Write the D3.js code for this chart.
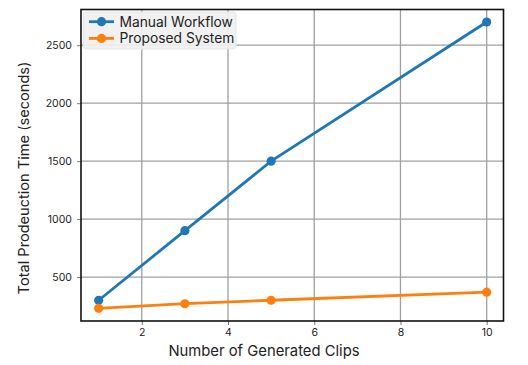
<!DOCTYPE html>
<html><head><meta charset="utf-8">
<script src="https://cdn.jsdelivr.net/npm/d3@7"></script>
<style>
body{margin:0;background:#fff;}
text{font-family:Inter,"Noto Sans",sans-serif;}
</style></head>
<body><svg id="c" width="528" height="365"></svg>
<script>
const clips = [1, 3, 5, 10];
const manual = [300, 900, 1500, 2700];
const proposed = [230, 270, 300, 370];
const xTicks = [2, 4, 6, 8, 10];
const yTicks = [500, 1000, 1500, 2000, 2500];
const seriesNames = ["Manual Workflow", "Proposed System"];
const colors = ["#1f77b4", "#ff7f0e"];

const svg = d3.select("#c");
const L = 81, R = 503.5, T = 9.5, B = 321;
const x = d3.scaleLinear().domain([0.59, 10.39]).range([L, R]);
const y = d3.scaleLinear().domain([121, 2808]).range([B, T]);

// grid
svg.append("g").selectAll("line").data(xTicks).join("line")
  .attr("x1", d => x(d)).attr("x2", d => x(d)).attr("y1", T).attr("y2", B)
  .attr("stroke", "#a0a0a0").attr("stroke-width", 1.3);
svg.append("g").selectAll("line").data(yTicks).join("line")
  .attr("y1", d => y(d)).attr("y2", d => y(d)).attr("x1", L).attr("x2", R)
  .attr("stroke", "#a0a0a0").attr("stroke-width", 1.3);

// axes
const xa = svg.append("g").attr("transform", `translate(0,${B})`)
  .call(d3.axisBottom(x).tickValues(xTicks).tickSize(4).tickPadding(4));
const ya = svg.append("g").attr("transform", `translate(${L},0)`)
  .call(d3.axisLeft(y).tickValues(yTicks).tickSize(4).tickPadding(5).tickFormat(d3.format("d")));
[xa, ya].forEach(a => {
  a.select(".domain").remove();
  a.selectAll("line").attr("stroke", "#555").attr("stroke-width", 0.8);
  a.selectAll("text").attr("font-size", 10.5).attr("fill", "#222")
    .style("font-family", "Inter, sans-serif");
});

// frame
svg.append("rect").attr("x", L).attr("y", T).attr("width", R - L).attr("height", B - T)
  .attr("fill", "none").attr("stroke", "#111").attr("stroke-width", 1.6);

// series
const data = [manual, proposed];
const line = d3.line().x((d, i) => x(clips[i])).y(d => y(d));
data.forEach((s, k) => {
  svg.append("path").datum(s).attr("d", line).attr("fill", "none")
    .attr("stroke", colors[k]).attr("stroke-width", 2.8);
  svg.append("g").selectAll("circle").data(s).join("circle")
    .attr("cx", (d, i) => x(clips[i])).attr("cy", d => y(d)).attr("r", 4.6)
    .attr("fill", colors[k]);
});

// legend
const lg = svg.append("g");
lg.append("rect").attr("x", 83.5).attr("y", 12).attr("width", 152.5).attr("height", 37)
  .attr("rx", 3).attr("fill", "#f0f0f0").attr("fill-opacity", 0.92).attr("stroke", "#e6e6e6");
seriesNames.forEach((n, k) => {
  const yy = 21.7 + k * 16.7;
  lg.append("line").attr("x1", 89).attr("x2", 114).attr("y1", yy).attr("y2", yy)
    .attr("stroke", colors[k]).attr("stroke-width", 2.8);
  lg.append("circle").attr("cx", 101.5).attr("cy", yy).attr("r", 4.6).attr("fill", colors[k]);
  lg.append("text").attr("x", 119.5).attr("y", yy + 4.9).attr("font-size", 13.8)
    .attr("fill", "#222").text(n);
});

// labels
svg.append("text").attr("x", 264).attr("y", 356).attr("text-anchor", "middle")
  .attr("font-size", 14.8).attr("fill", "#222").text("Number of Generated Clips");
svg.append("text").attr("transform", `translate(28.5,178) rotate(-90)`)
  .attr("text-anchor", "middle").attr("font-size", 14.6).attr("fill", "#222")
  .text("Total Prodeuction Time (seconds)");
</script></body></html>
